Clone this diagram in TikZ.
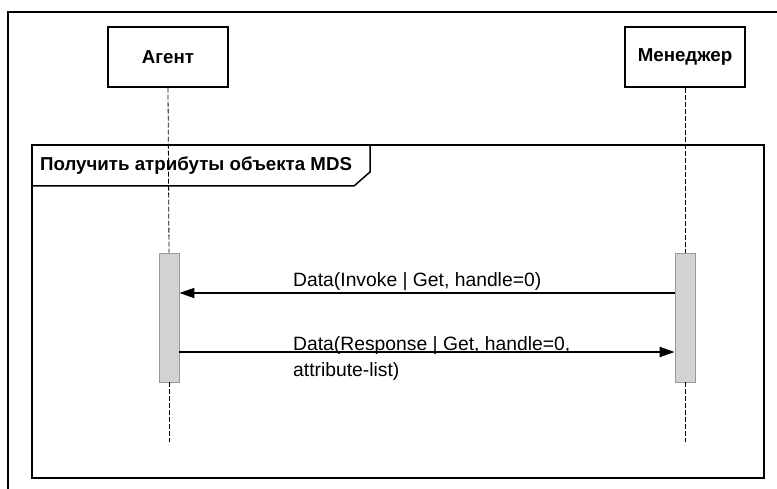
\documentclass[tikz,border=0pt]{standalone}
\usepackage{fontspec}
\setmainfont{Liberation Sans}
\usetikzlibrary{arrows.meta}
\begin{document}
\begin{tikzpicture}[x=1pt,y=-1pt,
  actor/.style={draw,line width=1.3pt,minimum width=120pt,minimum height=60pt,inner sep=0pt,font=\fontsize{18.7}{22}\selectfont\bfseries},
  bar/.style={draw=gray!80,fill=gray!35,line width=0.8pt,minimum width=20pt,minimum height=129pt,inner sep=0pt},
  lifeline/.style={dashed,line width=0.8pt,dash pattern=on 5pt off 2pt},
  msg/.style={line width=1.8pt,-{Triangle[length=15pt,width=10pt]}},
  msgtext/.style={anchor=base west,inner sep=0pt,font=\fontsize{19.3}{22}\selectfont},
  frameline/.style={line width=1.8pt}]
\useasboundingbox (0,0) rectangle (777,489);
% outer frame
\draw[frameline] (8,489) -- (8,12) -- (777,12);
% actors
\node[actor] (agent) at (168,57) {Агент};
\node[actor] (mgr) at (685,57) {Менеджер};
% activation bars
\node[bar] (abar) at (169,317.5) {};
\node[bar] (mbar) at (685,317.5) {};
\coordinate (aend) at (169,442);
\coordinate (mend) at (685,442);
% lifelines
\draw[lifeline] (agent.south) -- (abar.north);
\draw[lifeline] (abar.south) -- (aend);
\draw[lifeline] (mgr.south) -- (mbar.north);
\draw[lifeline] (mbar.south) -- (mend);
% fragment frame
\draw[frameline] (32,145) rectangle (764,478);
\draw[line width=1.5pt] (32,186) -- (354,186) -- (370,172) -- (370,145);
\node[anchor=west,inner sep=0pt,font=\fontsize{18.7}{22}\selectfont\bfseries] (ftitle) at (40,166) {Получить атрибуты объекта MDS};
% messages
\coordinate (y1) at (0,293);
\coordinate (y2) at (0,352);
\draw[msg] (mbar.west |- y1) -- (abar.east |- y1);
\draw[msg] (abar.east |- y2) -- (mbar.west |- y2);
\node[msgtext] (t1) at (293,287) {Data(Invoke | Get, handle=0)};
\node[msgtext] (t2) at (293,350) {Data(Response | Get, handle=0,};
\node[msgtext] (t3) at (293,376) {attribute-list)};
\end{tikzpicture}
\end{document}
